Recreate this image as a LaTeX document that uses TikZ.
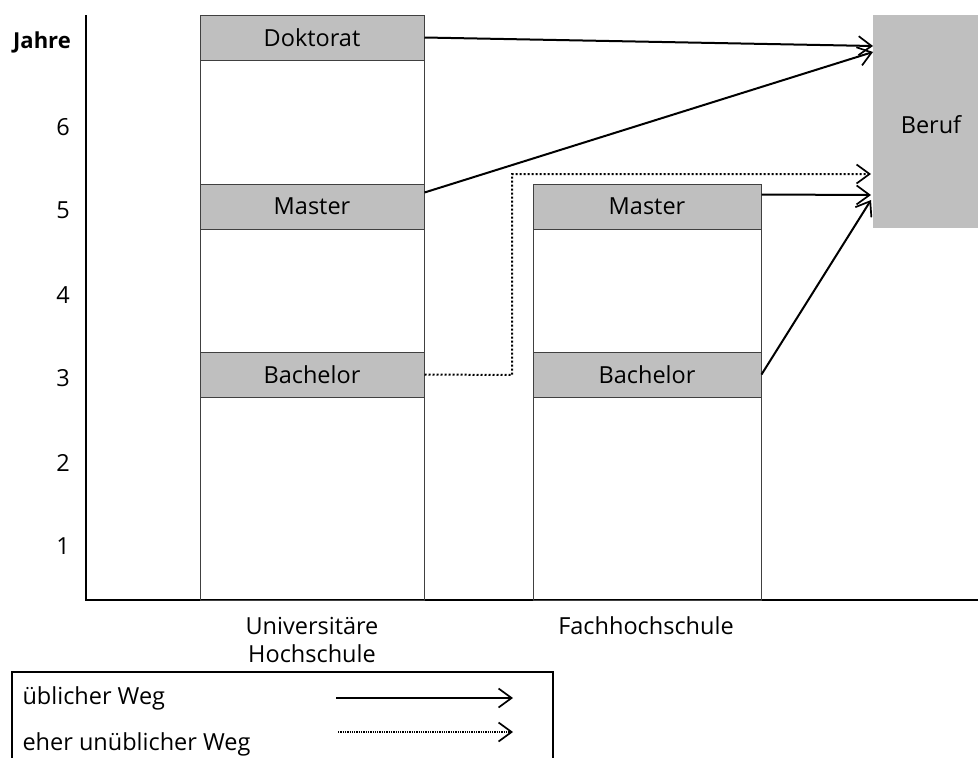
\documentclass[tikz,border=0pt]{standalone}
\usepackage{fontspec}
\setmainfont{Open Sans}
\usetikzlibrary{arrows.meta}
\begin{document}
\begin{tikzpicture}[x=1pt,y=-1pt,
  txt/.style={font=\fontsize{23.5}{28}\selectfont},
  band/.style={draw=black!75,line width=1pt,fill=black!25,minimum width=224pt,minimum height=45pt,inner sep=0pt,txt},
  col/.style={draw=black!75,line width=1pt,minimum width=224pt,inner sep=0pt},
  tip/.style={-{Straight Barb[length=13pt,width=19pt,line width=1.7pt]}},
  arr/.style={line width=2pt,tip},
  darr/.style={line width=2pt,dotted,tip}]
\useasboundingbox (0,0) rectangle (978,758);
% axes
\draw[line width=1.2pt] (86,15) -- (86,600) -- (978,600);
\node[txt,font=\fontsize{22}{28}\selectfont\bfseries] (jahre) at (42,42) {Jahre};
\node[txt] (y6) at (63,127) {6};
\node[txt] (y5) at (63,210) {5};
\node[txt] (y4) at (63,295) {4};
\node[txt] (y3) at (63,378) {3};
\node[txt] (y2) at (63,463) {2};
\node[txt] (y1) at (63,546) {1};
% university column
\node[col,minimum height=585pt] (ucol) at (312,307.5) {};
\node[band] (dok) at (312,37.5) {Doktorat};
\node[band] (mu) at (312,206.5) {Master};
\node[band] (bu) at (312,374.5) {Bachelor};
% FH column
\node[col,minimum width=228pt,minimum height=416pt] (fcol) at (647,392) {};
\node[band,minimum width=228pt] (mf) at (647,206.5) {Master};
\node[band,minimum width=228pt] (bf) at (647,374.5) {Bachelor};
% Beruf
\node[fill=black!25,minimum width=105pt,minimum height=213pt,inner sep=0pt,anchor=north west,txt] (beruf) at (873,15) {};
\node[txt] (beruflbl) at (931,125) {Beruf};
% arrows
\draw[arr] (dok.east) -- ([yshift=-31pt]beruf.north west);
\draw[arr] ([yshift=-9pt]mu.north east) -- ([yshift=-37pt]beruf.north west);
\draw[darr] (bu.east) -- (512,375) -- (512,174) -- ([xshift=-2pt,yshift=-159pt]beruf.north west);
\draw[arr] ([yshift=-11pt]mf.north east) -- ([xshift=-2pt,yshift=-180pt]beruf.north west);
\draw[arr] (bf.east) -- ([xshift=-2pt,yshift=-185pt]beruf.north west);
% labels
\node[txt,align=center] (uni) at (312,640) {Universitäre\\Hochschule};
\node[txt] (fh) at (646,626) {Fachhochschule};
% legend
\draw[line width=1.2pt] (12,780) -- (12,672) -- (553,672) -- (553,780);
\node[txt,anchor=west] (l1) at (19,698) {üblicher Weg};
\node[txt,anchor=west] (l2) at (19,744) {eher unüblicher Weg};
\coordinate (a1s) at (336,698);
\coordinate (a1e) at (513,698);
\coordinate (a2s) at (338,732);
\coordinate (a2e) at (513,732);
\draw[line width=1.5pt,tip] (a1s) -- (a1e);
\draw[line width=1.3pt,densely dotted,tip] (a2s) -- (a2e);
\end{tikzpicture}
\end{document}
